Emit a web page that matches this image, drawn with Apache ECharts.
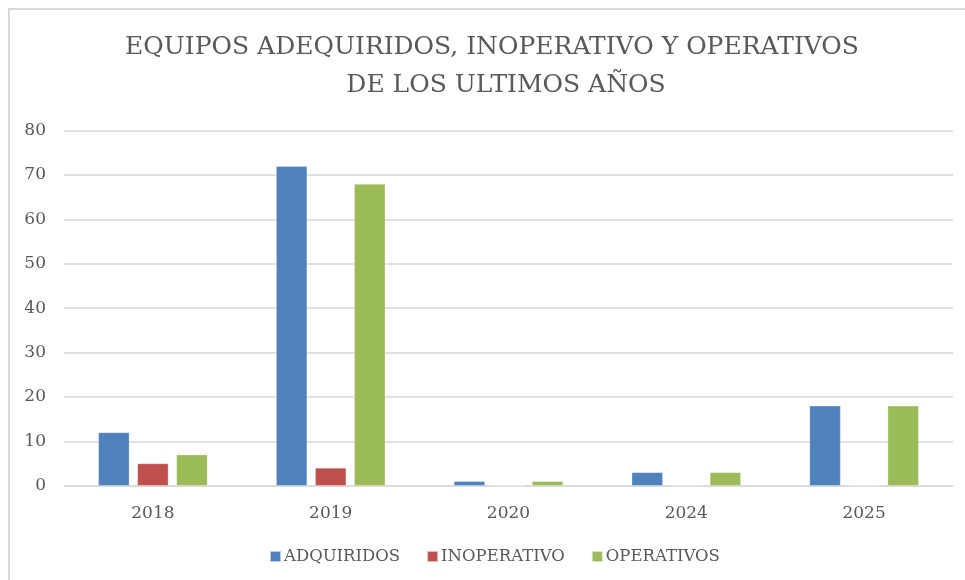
<!DOCTYPE html>
<html>
<head>
<meta charset="utf-8">
<script src="https://cdn.jsdelivr.net/npm/echarts@6/dist/echarts.min.js"></script>
<style>
  html, body { margin: 0; padding: 0; background: #fff; }
  #chart { width: 965px; height: 580px; }
</style>
</head>
<body>
<div id="chart"></div>
<script>
// Equipment counts per year
const years = ['2018', '2019', '2020', '2024', '2025'];
const adquiridos = [12, 72, 1, 3, 18];
const inoperativo = [5, 4, 0, 0, 0];
const operativos = [7, 68, 1, 3, 18];
const seriesNames = ['ADQUIRIDOS', 'INOPERATIVO', 'OPERATIVOS'];
const titleLines = ['EQUIPOS ADEQUIRIDOS, INOPERATIVO Y OPERATIVOS', 'DE LOS ULTIMOS AÑOS'];

const serif = '"DejaVu Serif", serif';
const textGray = '#595959';
const colors = ['#4F81BD', '#C0504D', '#9BBB59'];

const chart = echarts.init(document.getElementById('chart'), null, { renderer: 'canvas' });

function barSeries(name, data, color) {
  return {
    name: name,
    type: 'bar',
    data: data,
    barWidth: 31,
    barGap: '26%',
    itemStyle: { color: color, borderColor: 'rgba(255,255,255,0.6)', borderWidth: 0.5 }
  };
}

function titleText(text, x, y) {
  return {
    type: 'text',
    x: x,
    y: y,
    silent: true,
    style: {
      text: text,
      fontFamily: serif,
      fontSize: 25,
      fill: textGray,
      align: 'center',
      verticalAlign: 'middle'
    }
  };
}

chart.setOption({
  animation: false,
  backgroundColor: '#ffffff',
  graphic: [
    {
      type: 'rect',
      shape: { x: 9, y: 9, width: 1000, height: 620 },
      style: { fill: 'none', stroke: '#d9d9d9', lineWidth: 2 },
      silent: true
    },
    titleText(titleLines[0], 492, 47),
    titleText(titleLines[1], 506, 85)
  ],
  legend: {
    top: 548,
    left: 269,
    padding: 0,
    itemWidth: 11,
    itemHeight: 11,
    itemGap: 26,
    icon: 'rect',
    textStyle: { fontFamily: serif, fontSize: 16.5, color: textGray, padding: [0, 0, 0, -2] },
    data: seriesNames
  },
  grid: { left: 64, right: 12, top: 130.7, bottom: 94.3 },
  xAxis: {
    type: 'category',
    data: years,
    axisLine: { lineStyle: { color: '#d9d9d9', width: 1.5 } },
    axisTick: { show: false },
    axisLabel: { fontFamily: serif, fontSize: 17, color: textGray, margin: 19 }
  },
  yAxis: {
    type: 'value',
    min: 0,
    max: 80,
    interval: 10,
    axisLine: { show: false },
    axisTick: { show: false },
    splitLine: { lineStyle: { color: '#d9d9d9', width: 1.5 } },
    axisLabel: { fontFamily: serif, fontSize: 17, color: textGray, margin: 18 }
  },
  series: [
    barSeries(seriesNames[0], adquiridos, colors[0]),
    barSeries(seriesNames[1], inoperativo, colors[1]),
    barSeries(seriesNames[2], operativos, colors[2])
  ]
});
</script>
</body>
</html>
